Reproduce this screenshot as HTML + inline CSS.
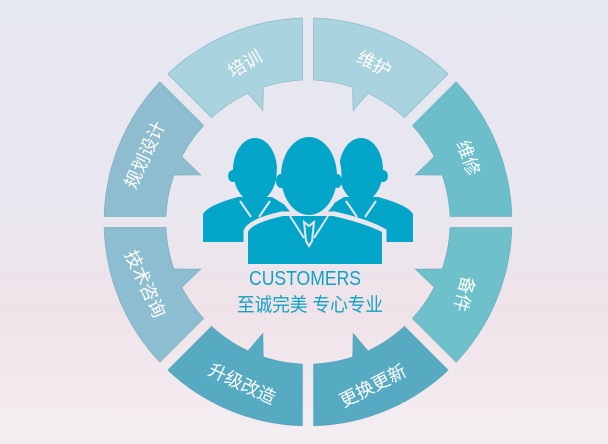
<!DOCTYPE html>
<html><head><meta charset="utf-8"><style>
html,body{margin:0;padding:0;width:608px;height:444px;overflow:hidden}
body{background:linear-gradient(180deg,#e5e7f1 0%,#e9e7ef 45%,#efe3e9 70%,#f4eef2 100%)}
svg{position:absolute;left:0;top:0}
.l{fill:#fff;font-family:"Liberation Sans","Noto Sans CJK SC",sans-serif;font-size:18px;text-anchor:middle;dominant-baseline:central}
</style></head><body>
<svg width="608" height="444" viewBox="0 0 608 444" xmlns="http://www.w3.org/2000/svg">
<g id="segs"></g>
<g fill="#03a6c8">
  <ellipse cx="255" cy="170" rx="22" ry="32"/>
  <ellipse cx="233" cy="176" rx="5" ry="6"/>
  <ellipse cx="361" cy="170" rx="22" ry="32"/>
  <ellipse cx="383" cy="176" rx="5" ry="6"/>
  <path d="M203,242 L203,214 Q208,205 238,197 L272,197 L290,208 L290,242 Z"/>
  <path d="M413,242 L413,214 Q408,205 378,197 L344,197 L326,208 L326,242 Z"/>
  <g stroke="#ebe6ee" stroke-width="5">
    <path d="M246,264 L246,231 Q250,221 282,214 L334,214 Q366,221 384,231 L384,264 Z"/>
    <ellipse cx="309" cy="176" rx="30" ry="41"/>
  </g>
  <path d="M248,264 L248,232 Q252,223 283,216 L333,216 Q364,223 382,232 L382,264 Z"/>
  <ellipse cx="309" cy="176" rx="28" ry="39"/>
  <ellipse cx="281" cy="181" rx="5" ry="7"/>
  <ellipse cx="337" cy="181" rx="5" ry="7"/>
</g>
<g stroke="#e8e4ee" stroke-width="2" fill="none">
  <path d="M290,216 L304,238 M328,216 L314,238"/>
  <path d="M304,222 L309,226 L314,222 L312,241 L309,246 L306,241 Z"/>
  <path d="M240,201 L251,217 M270,201 L259,217 M376,201 L365,217 M346,201 L357,217"/>
</g>
<text x="305" y="285" font-family="Liberation Sans,sans-serif" font-size="20" fill="#12a1c2" text-anchor="middle" textLength="112" lengthAdjust="spacingAndGlyphs">CUSTOMERS</text>
<text x="310" y="311" font-family="Liberation Sans,'Noto Sans CJK SC',sans-serif" font-size="19" fill="#12a1c2" text-anchor="middle" textLength="146" lengthAdjust="spacingAndGlyphs">至诚完美 专心专业</text>
<g id="labels">
<text class="l" transform="translate(245,64) rotate(-30)">培训</text>
<text class="l" transform="translate(374,64) rotate(27)">维护</text>
<text class="l" transform="translate(145,155) rotate(-65)">规划设计</text>
<text class="l" transform="translate(468,158) rotate(70)">维修</text>
<text class="l" transform="translate(145,284) rotate(65)">技术咨询</text>
<text class="l" transform="translate(464,294) rotate(105)">备件</text>
<text class="l" transform="translate(242,384) rotate(25)">升级改造</text>
<text class="l" transform="translate(373,386) rotate(-27)">更换更新</text>
</g>
</svg>
<script>
(function(){
var cx=308,cy=222,Ro=204,Ri=142,D=Math.PI/180;
function P(a,r){return (cx+r*Math.cos(a*D)).toFixed(1)+","+(cy-r*Math.sin(a*D)).toFixed(1)}
var oa=Math.asin(5.5/Ro)/D, ia=Math.asin(5.5/Ri)/D;
function seg(A,B,t1,t2,tt,rt,col){
  if(A>B){var x=A;A=B;B=x} if(t1>t2){var y=t1;t1=t2;t2=y}
  var p=[],a;
  for(a=A+oa;a<B-oa;a+=1)p.push(P(a,Ro)); p.push(P(B-oa,Ro));
  for(a=B-ia;a>t2;a-=1)p.push(P(a,Ri)); p.push(P(t2,Ri));
  p.push(P(tt,rt)); p.push(P(t1,Ri));
  for(a=t1;a>A+ia;a-=1)p.push(P(a,Ri)); p.push(P(A+ia,Ri));
  return '<path d="M'+p.join(" L")+' Z" fill="'+col+'" stroke="rgba(40,120,150,0.35)" stroke-width="0.7"/>';
}
var base=[[90,135,108.3,115,112.1,120],[135,180,152.6,160.7,156.3,117]];
var cols={tl:["#a9d3df","#8ebdd0"],tr:["#a9d3df","#6cbfca"],bl:["#56abc2","#8dbdd0"],br:["#56abc2","#6ec0ca"]};
var h="";
base.forEach(function(s,i){
  var m=function(f){return s.slice(0,5).map(f).concat([s[5]])};
  h+=seg.apply(null,m(function(v){return v}).concat([cols.tl[i]]));
  h+=seg.apply(null,m(function(v){return 180-v}).concat([cols.tr[i]]));
  h+=seg.apply(null,m(function(v){return -v}).concat([cols.bl[i]]));
  h+=seg.apply(null,m(function(v){return v-180}).concat([cols.br[i]]));
});
document.getElementById("segs").innerHTML=h;
})();
</script>
</body></html>
